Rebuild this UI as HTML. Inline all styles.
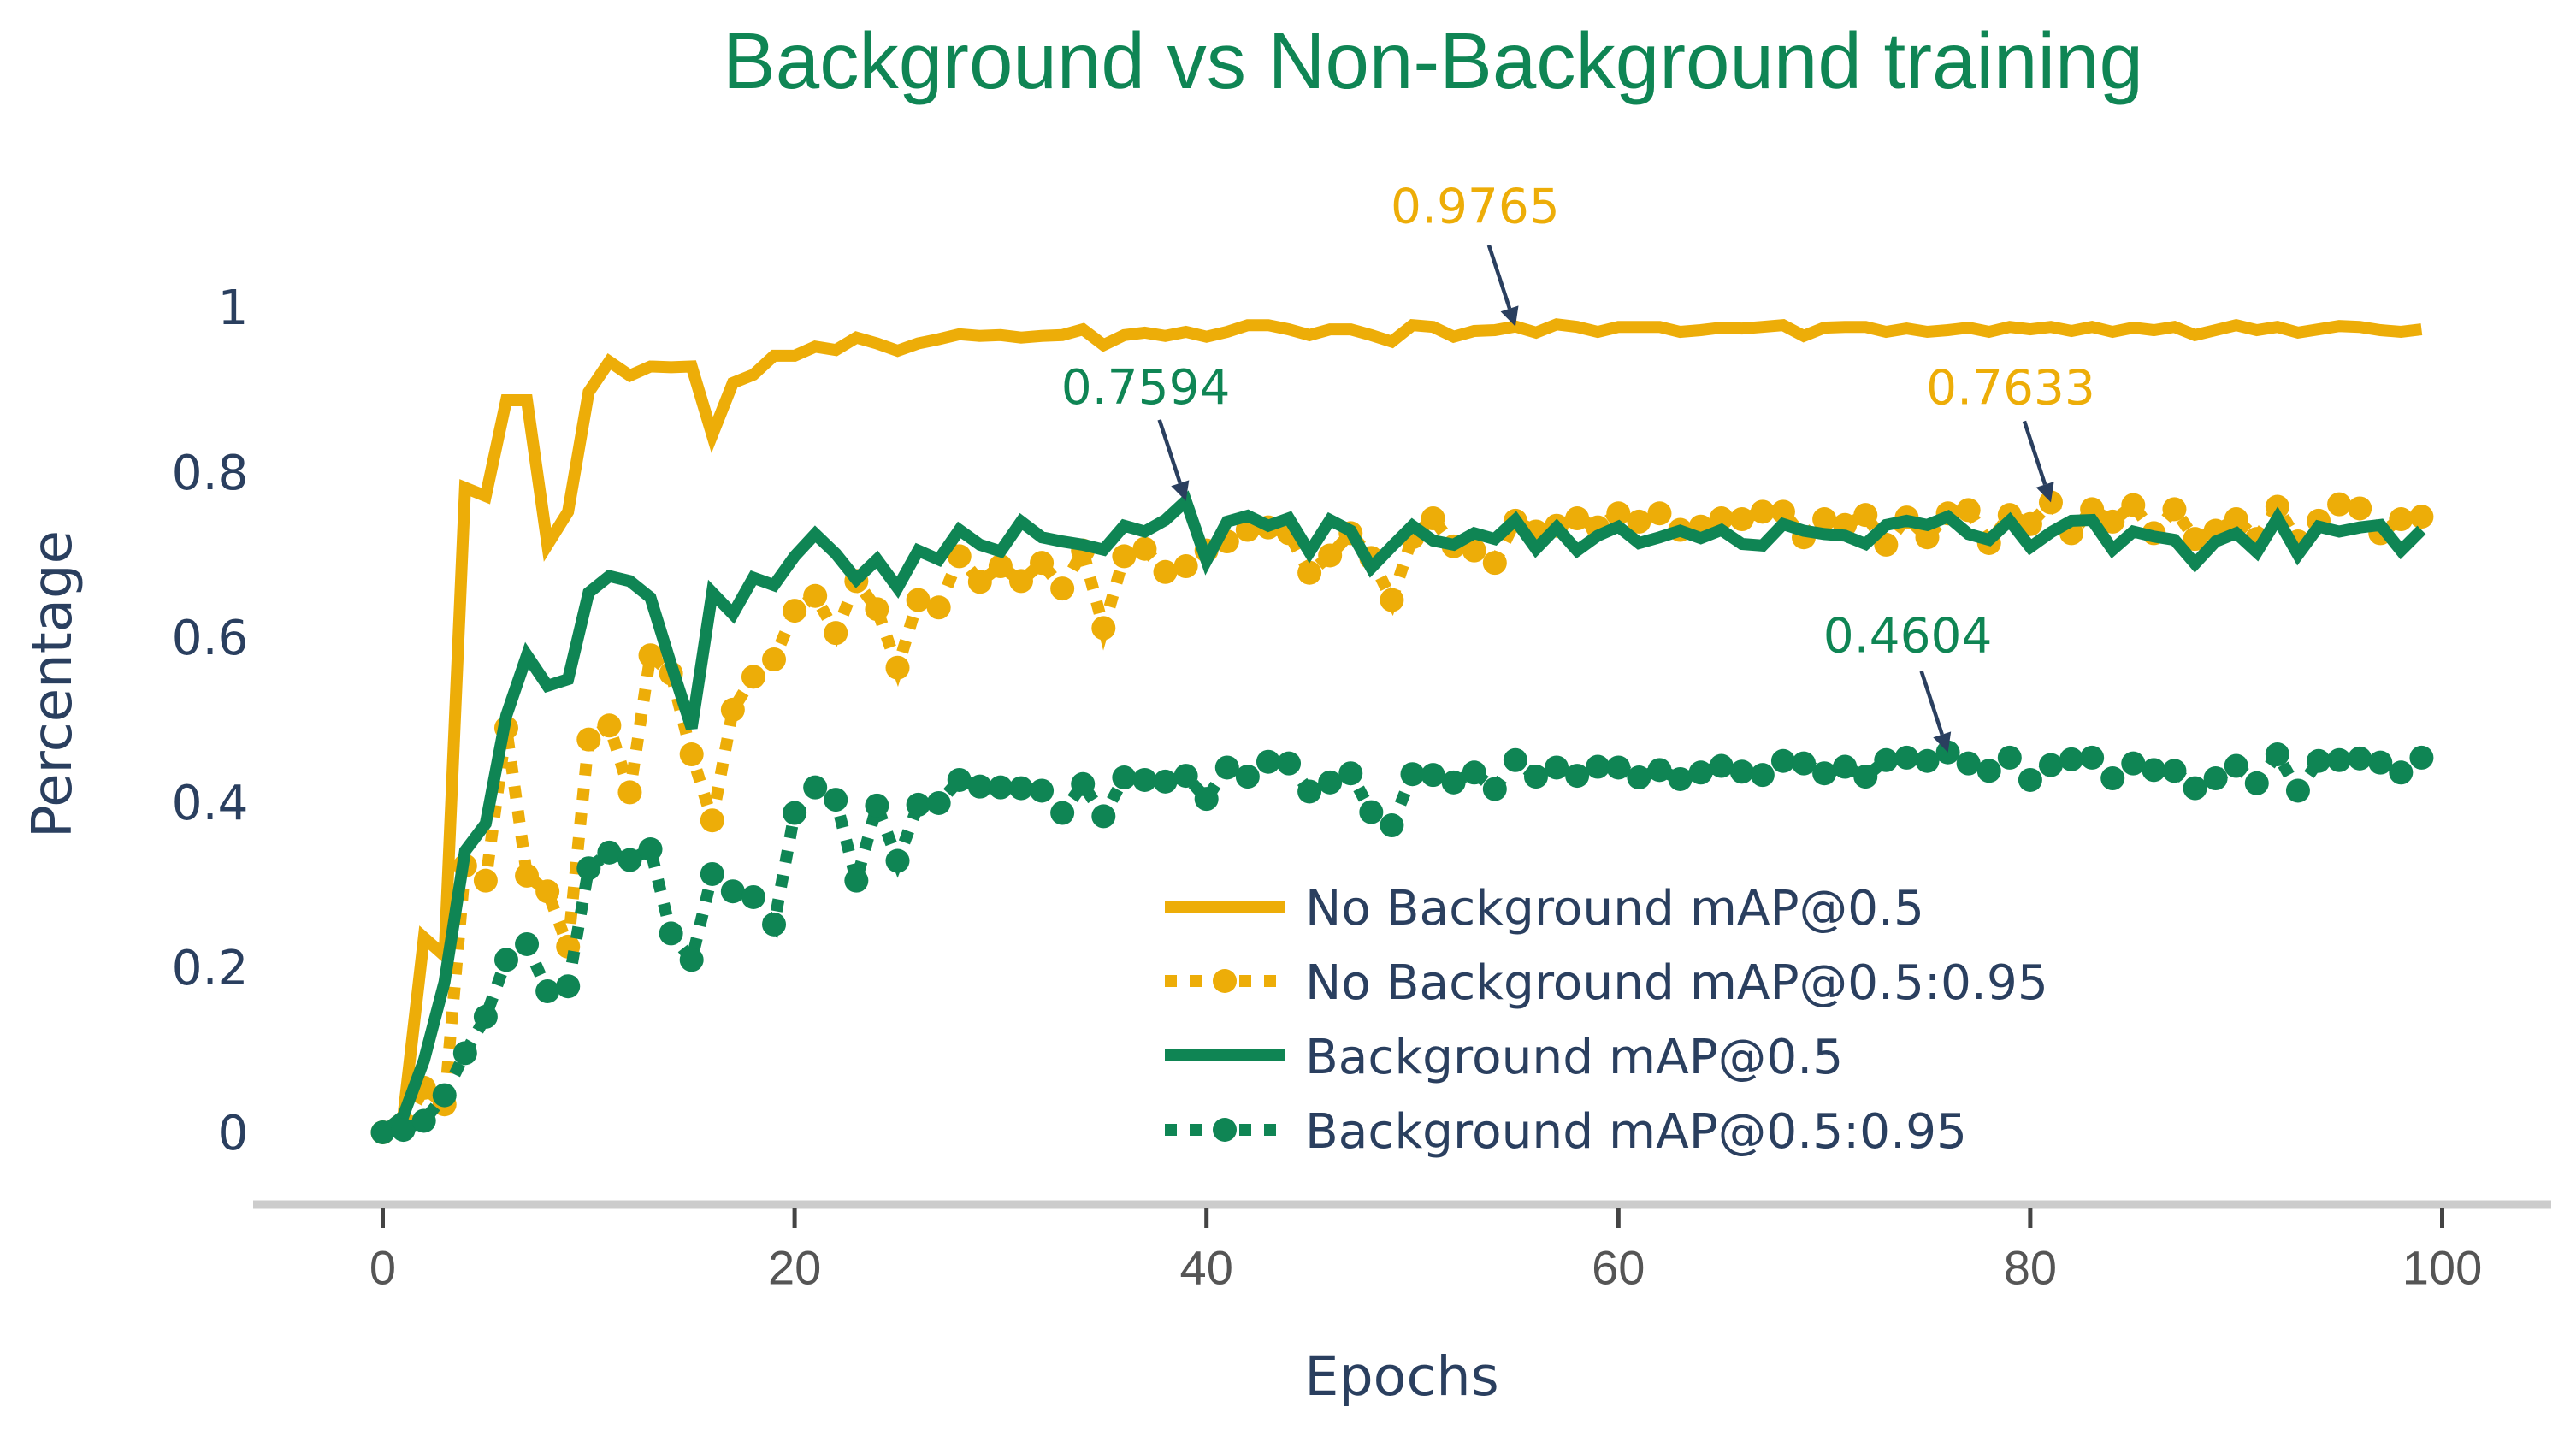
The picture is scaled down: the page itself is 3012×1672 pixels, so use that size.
<!DOCTYPE html>
<html lang="en">
<head>
<meta charset="utf-8">
<title>Background vs Non-Background training</title>
<style>
html,body{margin:0;padding:0;background:#fff;}
body{width:3012px;height:1672px;overflow:hidden;}
svg{display:block;}
text{font-family:"DejaVu Sans",sans-serif;}
</style>
</head>
<body>
<svg id="chart" xmlns="http://www.w3.org/2000/svg" width="3012" height="1672" viewBox="0 0 3012 1672">
  <rect width="3012" height="1672" fill="#ffffff"/>
  <text x="1675.5" y="103" text-anchor="middle" font-size="92.5" fill="#0F8554" style="font-family:'Liberation Sans',sans-serif">Background vs Non-Background training</text>
  <rect x="296" y="1403.5" width="2687" height="10" fill="#cccccc"/>
  <g id="x-ticks"></g>
  <g id="y-ticks"></g>
  <text x="1639" y="1631" text-anchor="middle" font-size="63.5" fill="#2a3f5f">Epochs</text>
  <text transform="translate(83,800) rotate(-90)" text-anchor="middle" font-size="64" fill="#2a3f5f">Percentage</text>
  <g id="series"></g>
  <g id="annotations"></g>
  <g>
    <g>
      <line x1="1362" x2="1503" y1="1060" y2="1060" stroke="#EDAD08" stroke-width="14"/>
      <text x="1526" y="1081" font-size="56.5" fill="#2a3f5f">No Background mAP@0.5</text>
    </g>
    <g>
      <line x1="1362" x2="1503" y1="1147" y2="1147" stroke="#EDAD08" stroke-width="14" stroke-dasharray="14 15"/>
      <circle cx="1432" cy="1147" r="14" fill="#EDAD08"/>
      <text x="1526" y="1168" font-size="56.5" fill="#2a3f5f">No Background mAP@0.5:0.95</text>
    </g>
    <g>
      <line x1="1362" x2="1503" y1="1234" y2="1234" stroke="#0F8554" stroke-width="14"/>
      <text x="1526" y="1255" font-size="56.5" fill="#2a3f5f">Background mAP@0.5</text>
    </g>
    <g>
      <line x1="1362" x2="1503" y1="1321" y2="1321" stroke="#0F8554" stroke-width="14" stroke-dasharray="14 15"/>
      <circle cx="1432" cy="1321" r="14" fill="#0F8554"/>
      <text x="1526" y="1342" font-size="56.5" fill="#2a3f5f">Background mAP@0.5:0.95</text>
    </g>
  </g>
</svg>
<script>
const epochs = [0,1,2,3,4,5,6,7,8,9,10,11,12,13,14,15,16,17,18,19,20,21,22,23,24,25,26,27,28,29,30,31,32,33,34,35,36,37,38,39,40,41,42,43,44,45,46,47,48,49,50,51,52,53,54,55,56,57,58,59,60,61,62,63,64,65,66,67,68,69,70,71,72,73,74,75,76,77,78,79,80,81,82,83,84,85,86,87,88,89,90,91,92,93,94,95,96,97,98,99];
const noBgMap50 = [0,.02,.236,.214,.781,.771,.887,.887,.712,.752,.897,.934,.917,.928,.927,.928,.845,.908,.918,.941,.941,.952,.948,.963,.956,.947,.956,.961,.967,.965,.966,.963,.965,.966,.973,.954,.966,.969,.965,.970,.964,.970,.978,.978,.973,.966,.973,.973,.966,.958,.978,.976,.964,.971,.972,.9765,.969,.979,.976,.970,.976,.976,.976,.970,.972,.975,.974,.976,.978,.965,.975,.976,.976,.970,.974,.970,.972,.975,.970,.976,.973,.976,.971,.976,.970,.975,.972,.976,.966,.972,.978,.972,.976,.969,.973,.977,.976,.972,.970,.973];
const noBgMap5095 = [0,.005,.054,.034,.323,.305,.490,.311,.292,.225,.476,.493,.412,.578,.556,.458,.378,.512,.552,.573,.632,.650,.605,.668,.634,.563,.645,.636,.698,.667,.686,.668,.690,.659,.705,.611,.698,.707,.679,.686,.705,.716,.730,.733,.726,.678,.699,.726,.696,.645,.721,.744,.710,.705,.690,.741,.728,.735,.744,.733,.750,.740,.750,.730,.734,.744,.743,.752,.752,.721,.743,.736,.748,.712,.745,.721,.750,.754,.714,.748,.737,.7633,.726,.755,.740,.760,.726,.755,.719,.729,.743,.719,.758,.716,.741,.761,.756,.726,.743,.746];
const bgMap50 = [0,.02,.087,.182,.341,.374,.505,.578,.541,.549,.654,.674,.668,.648,.567,.490,.654,.628,.672,.663,.698,.725,.701,.670,.694,.660,.705,.694,.730,.712,.704,.740,.721,.716,.712,.706,.735,.728,.742,.765,.693,.740,.747,.735,.744,.703,.742,.729,.684,.710,.735,.717,.712,.726,.719,.742,.707,.733,.705,.723,.734,.714,.721,.729,.720,.730,.713,.711,.737,.729,.725,.723,.713,.736,.741,.736,.746,.725,.718,.741,.709,.727,.741,.742,.706,.728,.722,.718,.689,.716,.726,.703,.744,.700,.734,.728,.733,.736,.705,.730];
const bgMap5095 = [0,.003,.014,.045,.096,.140,.209,.228,.171,.177,.320,.339,.330,.343,.241,.209,.313,.292,.285,.252,.387,.418,.403,.305,.396,.329,.397,.399,.427,.419,.418,.417,.414,.387,.422,.383,.430,.427,.425,.432,.404,.442,.431,.449,.447,.413,.424,.435,.388,.372,.434,.433,.424,.436,.416,.451,.431,.442,.432,.443,.442,.430,.439,.428,.436,.444,.437,.433,.450,.447,.435,.443,.431,.451,.454,.450,.4604,.447,.438,.454,.427,.445,.452,.454,.429,.447,.439,.438,.417,.429,.444,.423,.458,.414,.450,.451,.453,.448,.436,.454];
const xTickValues = [0,20,40,60,80,100];
const yTickValues = [0,.2,.4,.6,.8,1];
const yTickLabels = ["0","0.2","0.4","0.6","0.8","1"];
const annotationEpochs = [55,39,81,76];
const annotationTexts = ["0.9765","0.7594","0.7633","0.4604"];
const YELLOW = "#EDAD08";
const GREEN = "#0F8554";
const NS = "http://www.w3.org/2000/svg";

function xScale(e){ return 447.5 + 24.08 * e; }
function yScale(v){ return 1324 - 965 * v; }
function mk(tag, parent, attrs){
  const el = document.createElementNS(NS, tag);
  for (const k in attrs) el.setAttribute(k, attrs[k]);
  parent.appendChild(el);
  return el;
}

const xTicksGroup = document.getElementById("x-ticks");
xTickValues.forEach(function(t){
  const tick = mk("line", xTicksGroup, {x1:xScale(t), x2:xScale(t), y1:1413, y2:1436, stroke:"#444444", "stroke-width":5});
  
  
  const label = mk("text", xTicksGroup, {x:xScale(t), y:1501.5, "text-anchor":"middle", "font-size":56, fill:"#555555", style:"font-family:'Liberation Sans',sans-serif"});
  label.textContent = String(t);
  
  
});

const yTicksGroup = document.getElementById("y-ticks");
yTickValues.forEach(function(t, i){
  const label = mk("text", yTicksGroup, {x:290.5, y:yScale(t) + 20, "text-anchor":"end", "font-size":56.5, fill:"#2a3f5f"});
  label.textContent = yTickLabels[i];
  
  
});

function linePath(values){
  return values.map(function(v, i){ return (i ? "L" : "M") + xScale(epochs[i]).toFixed(1) + " " + yScale(v).toFixed(1); }).join("");
}

const seriesGroup = document.getElementById("series");

const lineA = mk("path", seriesGroup, {d:linePath(noBgMap50), fill:"none", stroke:YELLOW, "stroke-width":14, "stroke-linejoin":"miter"});



const lineB = mk("path", seriesGroup, {d:linePath(noBgMap5095), fill:"none", stroke:YELLOW, "stroke-width":14, "stroke-dasharray":"14 15", "stroke-linejoin":"miter"});


noBgMap5095.forEach(function(v, i){
  const dot = mk("circle", seriesGroup, {cx:xScale(epochs[i]), cy:yScale(v), r:14, fill:YELLOW});
  
  
});

const lineC = mk("path", seriesGroup, {d:linePath(bgMap50), fill:"none", stroke:GREEN, "stroke-width":14, "stroke-linejoin":"miter"});



const lineD = mk("path", seriesGroup, {d:linePath(bgMap5095), fill:"none", stroke:GREEN, "stroke-width":14, "stroke-dasharray":"14 15", "stroke-linejoin":"miter"});


bgMap5095.forEach(function(v, i){
  const dot = mk("circle", seriesGroup, {cx:xScale(epochs[i]), cy:yScale(v), r:14, fill:GREEN});
  
  
});

const annotationSeries = [noBgMap50, bgMap50, noBgMap5095, bgMap5095];
const annotationColors = [YELLOW, GREEN, YELLOW, GREEN];
const annotationGaps = [121, 114, 115, 117];
const annotationGroup = document.getElementById("annotations");
annotationEpochs.forEach(function(e, i){
  const tx = xScale(e);
  const ty = yScale(annotationSeries[i][e]);
  const sx = tx - 31, sy = ty - 95;
  const len = Math.hypot(tx - sx, ty - sy);
  const ux = (tx - sx) / len, uy = (ty - sy) / len;
  const bx = tx - ux * 22, by = ty - uy * 22;
  const shaft = mk("line", annotationGroup, {x1:sx, y1:sy, x2:bx, y2:by, stroke:"#2a3f5f", "stroke-width":4.5});
  
  
  const pts = [tx, ty, bx - uy * 11, by + ux * 11, bx + uy * 11, by - ux * 11].map(function(n){ return n.toFixed(1); });
  const head = mk("polygon", annotationGroup, {points:pts[0]+","+pts[1]+" "+pts[2]+","+pts[3]+" "+pts[4]+","+pts[5], fill:"#2a3f5f"});
  
  
  const label = mk("text", annotationGroup, {x:tx - 47, y:ty - annotationGaps[i], "text-anchor":"middle", "font-size":56.5, fill:annotationColors[i]});
  label.textContent = annotationTexts[i];
  
  
});
</script>
</body>
</html>
